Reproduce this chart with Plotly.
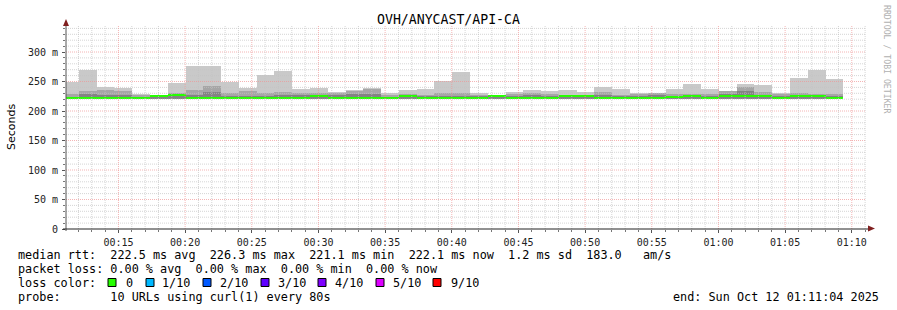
import plotly.graph_objects as go
import pandas as pd

# ---------------- data ----------------
chart_title = "OVH/ANYCAST/API-CA"
range_start = "2025-10-12 00:11:04"
range_end = "2025-10-12 01:11:04"
first_step_start = "2025-10-12 00:10:42"
step_seconds = 80

# smoke (ms): top of lightest band (max), top of medium band, top of dark band, bottom (min)
rtt_max = [250.0, 269.5, 240.0, 238.5, 229.4, 227.5, 247.5, 276.3, 276.0, 249.0, 239.0,
           260.5, 267.3, 237.9, 239.0, 232.8, 235.0, 239.6, 230.0, 235.0, 236.7, 250.3,
           265.6, 230.0, 227.7, 232.8, 235.0, 234.0, 235.0, 232.8, 240.2, 236.7, 230.0,
           231.0, 236.7, 245.2, 236.7, 234.5, 245.2, 243.5, 231.0, 255.4, 269.5, 253.7]
rtt_q2 = [228.0, 233.4, 236.0, 234.5, 227.0, 226.0, 230.0, 236.0, 242.4, 230.5, 233.4,
          231.0, 231.7, 231.0, 230.5, 230.5, 234.0, 237.9, 227.0, 228.0, 227.7, 230.5,
          230.5, 227.0, 226.0, 228.9, 231.0, 228.9, 227.0, 227.0, 231.9, 227.0, 229.0,
          230.0, 229.0, 229.0, 228.0, 234.5, 240.7, 232.0, 229.0, 231.0, 229.0, 229.0]
rtt_q3 = [224.0, 229.0, 227.0, 227.0, 224.0, 223.0, 226.0, 227.0, 231.7, 226.0, 226.0,
          226.0, 227.0, 227.0, 226.0, 227.0, 228.0, 229.0, 224.0, 226.0, 226.0, 226.0,
          226.0, 225.0, 224.0, 226.0, 227.0, 226.0, 225.0, 225.0, 227.0, 225.0, 226.0,
          227.0, 226.0, 227.0, 225.0, 228.0, 233.4, 227.0, 226.0, 227.0, 226.0, 226.0]
rtt_min = [220.9, 220.8, 220.9, 220.8, 220.9, 220.6, 221.0, 220.5, 220.8, 220.9, 220.8,
           220.9, 220.8, 220.7, 221.0, 220.9, 220.8, 220.9, 220.8, 221.0, 220.9, 220.8,
           220.9, 220.8, 221.0, 220.9, 220.8, 220.9, 221.0, 221.0, 220.6, 220.9, 220.8,
           220.9, 220.6, 220.7, 220.9, 221.0, 220.6, 220.9, 220.8, 220.7, 220.6, 220.8]
rtt_median = [222.3, 221.9, 222.0, 222.4, 222.3, 225.0, 226.3, 222.4, 222.4, 221.9, 222.3,
              221.9, 222.0, 222.3, 225.0, 221.9, 222.0, 222.4, 221.9, 225.4, 222.3, 221.9,
              222.3, 221.9, 225.4, 221.9, 222.3, 221.9, 225.4, 225.4, 222.3, 221.9, 221.9,
              222.3, 224.5, 226.0, 221.9, 225.0, 226.0, 225.0, 221.9, 225.0, 225.0, 222.1]
loss_count = [0, 0, 0, 0, 0, 0, 0, 0, 0, 0, 0, 0, 0, 0, 0, 0, 0, 0, 0, 0, 0, 0,
              0, 0, 0, 0, 0, 0, 0, 0, 0, 0, 0, 0, 0, 0, 0, 0, 0, 0, 0, 0, 0, 0]

y_tick_values = [0, 50, 100, 150, 200, 250, 300]
y_tick_labels = ["0", "50 m", "100 m", "150 m", "200 m", "250 m", "300 m"]

legend_labels = ["0", "1/10", "2/10", "3/10", "4/10", "5/10", "9/10"]
legend_colors = ["#26ff00", "#00b8ff", "#0059ff", "#5e00ff", "#7e00ff", "#dd00ff", "#ff0000"]
loss_color_by_count = {0: "#26ff00", 1: "#00b8ff", 2: "#0059ff", 3: "#5e00ff",
                       4: "#7e00ff", 5: "#dd00ff", 9: "#ff0000"}

line_rtt = "median rtt:  222.5 ms avg  226.3 ms max  221.1 ms min  222.1 ms now  1.2 ms sd  183.0   am/s"
line_loss = "packet loss: 0.00 % avg  0.00 % max  0.00 % min  0.00 % now"
line_color_head = "loss color:"
line_probe = "probe:       10 URLs using curl(1) every 80s"
line_end = "end: Sun Oct 12 01:11:04 2025"
side_text = "RRDTOOL / TOBI OETIKER"

# ---------------- geometry ----------------
W, H = 897, 310
ML, MR, MT, MB = 66, 31, 25, 81
PW, PH = W - ML - MR, H - MT - MB
PX_PER_MS = 0.59
YMAX = PH / PX_PER_MS
MONO = "DejaVu Sans Mono"
GRID_MINOR = "rgba(195,195,195,0.7)"
GRID_MAJOR = "rgba(240,150,150,0.7)"


def nb(s):
    return s.replace(" ", "\u00a0")


def px_x(p):
    return (p - ML) / PW


def px_y(p):
    return (H - MB - p) / PH


starts = pd.date_range(first_step_start, periods=len(rtt_max), freq=f"{step_seconds}s")
bar_w = step_seconds * 1000

fig = go.Figure()
smoke_layers = [(rtt_max, "#c9c9c9"), (rtt_q2, "#a6a6a6"), (rtt_q3, "#838383")]
for top, col in smoke_layers:
    fig.add_trace(go.Bar(
        x=starts, y=[t - b for t, b in zip(top, rtt_min)], base=rtt_min,
        width=bar_w, offset=0, marker=dict(color=col, line=dict(width=0)),
        hoverinfo="skip", showlegend=False))

half = 1 / PX_PER_MS
fig.add_trace(go.Bar(
    x=starts, y=[2 * half] * len(rtt_median), base=[m - half for m in rtt_median],
    width=bar_w, offset=0,
    marker=dict(color=[loss_color_by_count[c] for c in loss_count], line=dict(width=0)),
    hoverinfo="skip", showlegend=False))

shapes = []
# grid (drawn above the smoke, like rrdtool)
for v in range(10, int(YMAX) + 1, 10):
    major = v % 50 == 0
    shapes.append(dict(type="line", xref="x", yref="y", x0=range_start, x1=range_end,
                       y0=v, y1=v, layer="above",
                       line=dict(color=GRID_MAJOR if major else GRID_MINOR,
                                 width=1, dash="1px,1px")))
for t in pd.date_range("2025-10-12 00:12:00", "2025-10-12 01:11:00", freq="1min"):
    major = t.minute % 5 == 0
    shapes.append(dict(type="line", xref="x", yref="paper", x0=t, x1=t, y0=0, y1=1,
                       layer="above",
                       line=dict(color=GRID_MAJOR if major else GRID_MINOR,
                                 width=1, dash="1px,1px")))
# axes lines + arrows
shapes.append(dict(type="line", xref="paper", yref="paper", x0=0, x1=0,
                   y0=px_y(231), y1=px_y(23), line=dict(color="#555555", width=1)))
shapes.append(dict(type="line", xref="paper", yref="paper", x0=px_x(63), x1=px_x(869),
                   y0=0, y1=0, line=dict(color="#222222", width=1)))
shapes.append(dict(type="path", xref="paper", yref="paper", fillcolor="#801f1f",
                   line=dict(width=0),
                   path=f"M {px_x(63)} {px_y(26)} L {px_x(69)} {px_y(26)} L {px_x(66)} {px_y(19)} Z"))
shapes.append(dict(type="path", xref="paper", yref="paper", fillcolor="#801f1f",
                   line=dict(width=0),
                   path=f"M {px_x(868)} {px_y(225.5)} L {px_x(868)} {px_y(231.5)} L {px_x(875)} {px_y(228.5)} Z"))

annotations = []


def text_at(x, y, s, anchor="left", size=11.8, color="#000000", angle=0, family=MONO):
    annotations.append(dict(xref="paper", yref="paper", x=px_x(x), y=px_y(y), text=nb(s),
                            showarrow=False, xanchor=anchor, yanchor="middle",
                            textangle=angle, font=dict(family=family, size=size, color=color)))


text_at(448, 19, chart_title, anchor="center", size=13.2)
text_at(16, 255, line_rtt)
text_at(16, 268.5, line_loss)
text_at(16, 282.5, line_color_head)
text_at(16, 296.5, line_probe)
text_at(881, 296.5, line_end, anchor="right")
text_at(11, 127, "Seconds", anchor="center", size=11, angle=-90, family="DejaVu Sans")
text_at(887, 59, side_text, anchor="center", size=8.2, color="#b0b0b0", angle=90)

sq_x = [108, 146, 203, 261, 318, 376, 433]
lbl_x = [124, 160, 218, 276, 333, 391, 449]
for sx, lx, lab, col in zip(sq_x, lbl_x, legend_labels, legend_colors):
    shapes.append(dict(type="rect", xref="paper", yref="paper", x0=px_x(sx), x1=px_x(sx + 8),
                       y0=px_y(286.5), y1=px_y(278.5), fillcolor=col,
                       line=dict(color="#000000", width=1)))
    text_at(lx, 282.5, lab)

fig.update_layout(
    width=W, height=H, margin=dict(l=ML, r=MR, t=MT, b=MB, autoexpand=False),
    paper_bgcolor="#ffffff", plot_bgcolor="#ffffff",
    barmode="overlay", bargap=0, showlegend=False,
    shapes=shapes, annotations=annotations,
    xaxis=dict(type="date", range=[range_start, range_end], showgrid=False, zeroline=False,
               showline=False, tickformat="%H:%M", tick0="2025-10-12 00:15:00", dtick=300000,
               ticks="outside", ticklen=3, tickcolor="#555555", ticklabelstandoff=1,
               tickfont=dict(family=MONO, size=10, color="#222222"),
               minor=dict(ticks="outside", ticklen=2, dtick=60000, tickcolor="#777777")),
    yaxis=dict(range=[0, YMAX], showgrid=False, zeroline=False, showline=False,
               tickvals=y_tick_values, ticktext=[nb(s) for s in y_tick_labels],
               ticks="outside", ticklen=3, tickcolor="#555555", ticklabelstandoff=2,
               tickfont=dict(family=MONO, size=10, color="#222222"),
               minor=dict(ticks="outside", ticklen=2, dtick=10, tickcolor="#777777")),
)

fig.write_html("out.html")
